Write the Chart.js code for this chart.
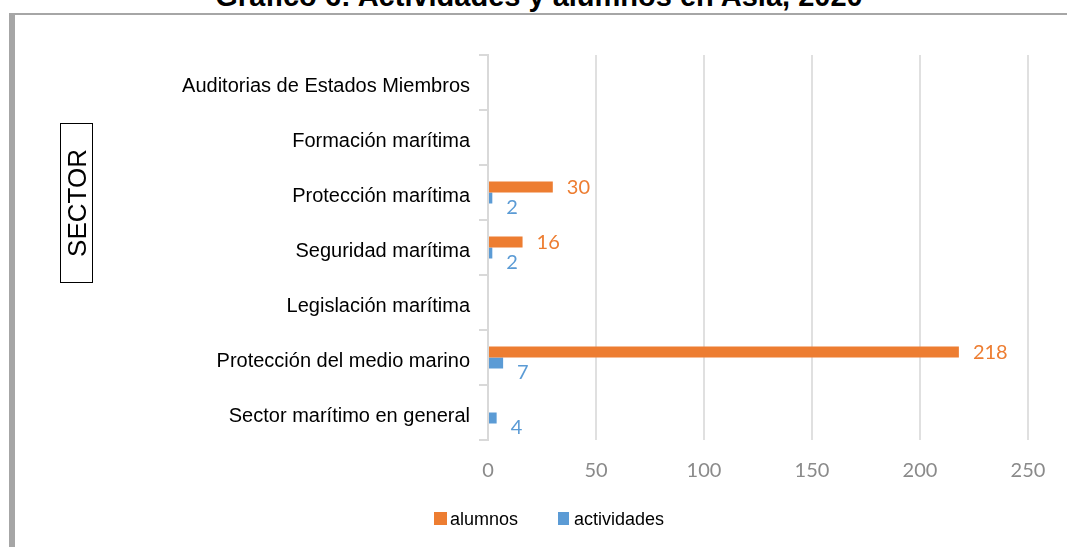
<!DOCTYPE html>
<html lang="es">
<head>
  <meta charset="UTF-8" />
  <title>Gráfico 6: Actividades y alumnos en Asia, 2020</title>
  <script src="https://cdn.jsdelivr.net/npm/chart.js"></script>
  <style>
    html, body {
      margin: 0;
      padding: 0;
      background: #fff;
      overflow: hidden;
    }
    .page {
      position: relative;
      width: 1067px;
      height: 547px;
      overflow: hidden;
      font-family: "Liberation Sans", Arial, sans-serif;
    }
    .frame {
      position: absolute;
      left: 9px;
      top: 13px;
      width: 1100px;
      height: 600px;
      border-top: 2px solid #a6a6a6;
      border-left: 6px solid #a6a6a6;
    }
    .title {
      position: absolute;
      left: 0;
      top: -18px;
      width: 1078px;
      text-align: center;
      font-weight: bold;
      font-size: 29px;
      line-height: 29px;
      color: #000;
    }
    .chart-box {
      position: absolute;
      left: 0;
      top: 0;
      width: 1067px;
      height: 547px;
    }
    .axis-title {
      position: absolute;
      left: 60px;
      top: 123px;
      width: 31px;
      height: 158px;
      border: 1px solid #000;
      display: flex;
      align-items: center;
      justify-content: center;
    }
    .axis-title span {
      writing-mode: vertical-rl;
      transform: rotate(180deg);
      font-size: 26px;
      line-height: 26px;
      color: #000;
    }
    .legend {
      position: absolute;
      top: 508px;
      left: 0;
      font-size: 18px;
      line-height: 22px;
      color: #000;
    }
    .legend .item {
      position: absolute;
      white-space: nowrap;
    }
    .legend .swatch {
      position: absolute;
      top: 4px;
      width: 13px;
      height: 13px;
    }
  </style>
</head>
<body>

<div class="page">
  <div class="frame"></div>
  <div class="title">Gráfico 6: Actividades y alumnos en Asia, 2020</div>

  <div class="chart-box">
    <canvas id="barChart" aria-label="Actividades y alumnos por sector" role="img"></canvas>
  </div>

  <div class="axis-title"><span>SECTOR</span></div>

  <!-- leyenda -->
  <div class="legend">
    <div class="item" style="left: 434px;">
      <div class="swatch" style="left: 0; background: #ED7D31;"></div>
      <span style="position: absolute; left: 16px;">alumnos</span>
    </div>
    <div class="item" style="left: 558px;">
      <div class="swatch" style="left: 0; width: 11px; background: #5B9BD5;"></div>
      <span style="position: absolute; left: 16px;">actividades</span>
    </div>
  </div>
</div>

<script>
  const sectores = [
    'Auditorias de Estados Miembros',
    'Formación marítima',
    'Protección marítima',
    'Seguridad marítima',
    'Legislación marítima',
    'Protección del medio marino',
    'Sector marítimo en general'
  ];
  const alumnos = [null, null, 30, 16, null, 218, null];
  const actividades = [null, null, 2, 2, null, 7, 4];
  const xTicks = [0, 50, 100, 150, 200, 250];

  const colorAlumnos = '#ED7D31';
  const colorActividades = '#5B9BD5';
  const gridColor = '#e0e0e0';

  // etiquetas de valor junto a cada barra
  const valueLabels = {
    id: 'valueLabels',
    afterDatasetsDraw(chart) {
      const ctx = chart.ctx;
      ctx.save();
      ctx.font = '20px Lato, "Open Sans", sans-serif';
      ctx.textAlign = 'left';
      ctx.textBaseline = 'middle';
      chart.data.datasets.forEach((ds, i) => {
        const meta = chart.getDatasetMeta(i);
        const dy = i === 0 ? 1 : 10;
        ctx.fillStyle = ds.backgroundColor;
        meta.data.forEach((bar, j) => {
          const v = ds.data[j];
          if (v === null || v === undefined) return;
          ctx.fillText(String(v), bar.x + 14, bar.y + dy);
        });
      });
      ctx.restore();
    }
  };

  new Chart(document.getElementById('barChart'), {
    type: 'bar',
    data: {
      labels: sectores,
      datasets: [
        {
          label: 'alumnos',
          data: alumnos,
          backgroundColor: colorAlumnos,
          categoryPercentage: 0.4,
          barPercentage: 1
        },
        {
          label: 'actividades',
          data: actividades,
          backgroundColor: colorActividades,
          categoryPercentage: 0.4,
          barPercentage: 1
        }
      ]
    },
    options: {
      indexAxis: 'y',
      responsive: true,
      maintainAspectRatio: false,
      animation: false,
      layout: { padding: { top: 55, right: 39, bottom: 47, left: 0 } },
      plugins: {
        legend: { display: false },
        tooltip: { enabled: false }
      },
      scales: {
        x: {
          min: 0,
          max: 250,
          afterFit(scale) { scale.height = 60; },
          afterBuildTicks(scale) { scale.ticks = xTicks.map(v => ({ value: v })); },
          grid: { color: gridColor, lineWidth: 2, drawTicks: false },
          border: { display: false },
          ticks: {
            padding: 19,
            color: '#8a8a8a',
            font: { family: 'Lato, "Open Sans", sans-serif', size: 20 }
          }
        },
        y: {
          afterFit(scale) { scale.width = 488; },
          grid: {
            offset: true,
            drawOnChartArea: false,
            tickLength: 9,
            color: '#d9d9d9',
            lineWidth: 2
          },
          border: { display: true, color: '#d9d9d9', width: 2 },
          ticks: {
            padding: 9,
            labelOffset: 4,
            color: '#000',
            font: { family: '"Liberation Sans", Arial, sans-serif', size: 20 }
          }
        }
      }
    },
    plugins: [valueLabels]
  });
</script>

</body>
</html>
